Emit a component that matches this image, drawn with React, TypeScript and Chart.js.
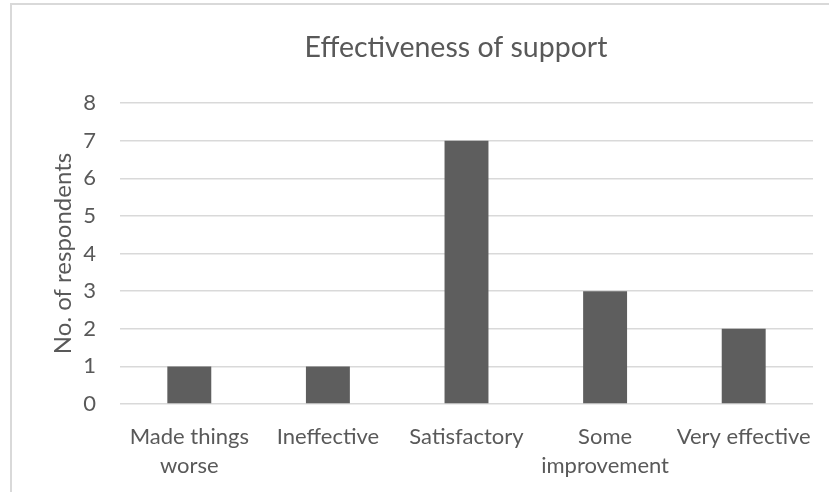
import React, { useEffect, useRef } from "react";
import { Chart, registerables } from "chart.js";

Chart.register(...registerables);

const categories: (string | string[])[] = [
  ["Made things", "worse"],
  "Ineffective",
  "Satisfactory",
  ["Some", "improvement"],
  "Very effective",
];
const respondents: number[] = [1, 1, 7, 3, 2];
const yTicks: number[] = [0, 1, 2, 3, 4, 5, 6, 7, 8];

const TEXT = "#595959";
const FONT = "Lato, 'Open Sans', sans-serif";
const CANVAS_W = 912;
const CANVAS_H = 492;

const centerTitle = {
  id: "centerTitle",
  afterLayout(chart: any) {
    const t = chart.titleBlock;
    if (t) {
      t.left = 0;
      t.right = CANVAS_W;
      t.width = CANVAS_W;
    }
  },
};

export default function App() {
  const ref = useRef<HTMLCanvasElement | null>(null);

  useEffect(() => {
    if (!ref.current) return;
    const chart = new Chart(ref.current, {
      type: "bar",
      data: {
        labels: categories,
        datasets: [
          {
            data: respondents,
            backgroundColor: "#5e5e5e",
            borderWidth: 0,
            barPercentage: 0.317,
            categoryPercentage: 1,
          },
        ],
      },
      plugins: [centerTitle],
      options: {
        animation: false,
        responsive: false,
        maintainAspectRatio: false,
        layout: { padding: { top: 0, right: 99, bottom: 0, left: 49 } },
        plugins: {
          legend: { display: false },
          tooltip: { enabled: false },
          title: {
            display: true,
            text: "Effectiveness of support",
            color: TEXT,
            font: { family: FONT, size: 28.5, weight: "normal" },
            padding: { top: 31, bottom: 37.8 },
          },
        },
        scales: {
          x: {
            afterFit: (axis: any) => {
              axis.height = 88;
            },
            grid: { display: false, drawTicks: false },
            border: { display: false },
            ticks: {
              color: TEXT,
              font: { family: FONT, size: 22, lineHeight: 1.3 },
              maxRotation: 0,
              autoSkip: false,
              padding: 19,
            },
          },
          y: {
            min: 0,
            max: 8,
            afterBuildTicks: (axis: any) => {
              axis.ticks = yTicks.map((v) => ({ value: v }));
            },
            afterFit: (axis: any) => {
              axis.width = 71;
            },
            grid: { color: "#d9d9d9", lineWidth: 1.5, drawTicks: false },
            border: { display: false },
            ticks: {
              color: TEXT,
              font: { family: FONT, size: 22 },
              padding: 24,
            },
            title: {
              display: true,
              text: "No. of respondents",
              color: TEXT,
              font: { family: FONT, size: 24 },
              padding: { top: 0, bottom: 0 },
            },
          },
        },
      },
    });
    return () => chart.destroy();
  }, []);

  return (
    <div
      style={{
        position: "fixed",
        left: 0,
        top: 0,
        width: 829,
        height: 492,
        overflow: "hidden",
        background: "#ffffff",
      }}
    >
      <div
        style={{
          position: "absolute",
          left: 10,
          top: 3,
          width: 900,
          height: 600,
          borderLeft: "2px solid #d9d9d9",
          borderTop: "2px solid #d9d9d9",
          boxSizing: "border-box",
        }}
      />
      <canvas
        ref={ref}
        width={CANVAS_W}
        height={CANVAS_H}
        style={{ position: "absolute", left: 0, top: 0, width: CANVAS_W, height: CANVAS_H }}
      />
    </div>
  );
}
